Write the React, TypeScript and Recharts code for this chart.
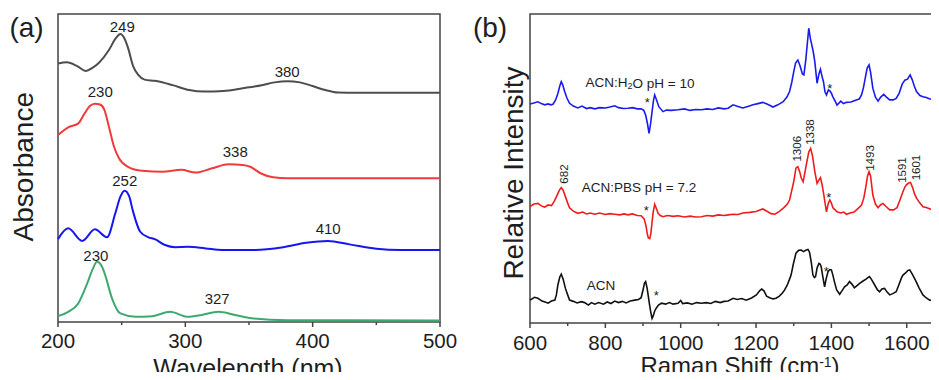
import React from 'react';
import { LineChart, Line, XAxis, YAxis, ReferenceArea, ReferenceDot } from 'recharts';

const FONT = '"Liberation Sans", Arial, Helvetica, sans-serif';

// ---- panel (a): UV-vis absorbance, offset curves (arb. units) ----
const absTicks = [200, 250, 300, 350, 400, 450, 500];
const absMajor = [200, 300, 400, 500];

const absGray: [number, number][] = [
  [200, 83.9], [207, 84.3], [215, 83.1], [222, 81.5], [227, 82.5], [232, 84.1], [240, 88.3],
  [245, 91.9], [249, 93.5], [252, 92.2], [255, 89.0], [259, 83.1], [263, 80.2], [268, 78.7],
  [276, 78.3], [290, 76.9], [303, 75.3], [315, 74.8], [330, 75.0], [345, 75.9], [360, 76.9],
  [370, 77.8], [380, 78.2], [390, 77.8], [400, 76.6], [410, 75.3], [420, 74.5], [435, 74.4],
  [460, 74.4], [500, 74.4],
];
const absRed: [number, number][] = [
  [200, 60.7], [208, 63.2], [216, 64.5], [221, 67.8], [225, 70.1], [229, 70.9], [233, 70.6],
  [236.5, 68.8], [240, 63.4], [244, 56.9], [248, 53.1], [255, 50.4], [266, 49.1], [282, 48.8],
  [297, 49.4], [308, 48.5], [321, 49.9], [334, 51.2], [345, 51.0], [351, 50.4], [359, 48.3],
  [369, 47.0], [380, 46.7], [500, 46.7],
];
const absBlue: [number, number][] = [
  [200, 26.9], [208, 30.4], [219, 26.3], [229, 30.1], [238.5, 27.5], [245, 35.3], [249, 40.7],
  [252.3, 42.6], [256, 40.7], [258.6, 36.4], [264.6, 29.3], [271, 27.5], [276, 26.9], [284, 25.0],
  [292, 24.3], [302, 24.4], [316, 23.9], [329, 23.4], [355, 23.4], [377, 24.3], [395, 25.7],
  [412, 26.3], [429, 25.2], [450, 23.8], [469, 23.4], [500, 23.4],
];
const absGreen: [number, number][] = [
  [200, 1.9], [208, 3.3], [216, 6.1], [223, 12.6], [227, 16.9], [230.6, 19.6], [234.5, 18.0],
  [237, 15.3], [242.4, 7.7], [249, 2.8], [261, 1.7], [274, 1.9], [288, 3.3], [302, 1.7],
  [313, 2.3], [326, 3.3], [339, 2.3], [352, 1.2], [380, 0.6], [500, 0.5],
];
const absPeaks = [
  { text: '249', x: 250.5, y: 96.1 },
  { text: '380', x: 380, y: 81.2 },
  { text: '230', x: 233.2, y: 74.8 },
  { text: '338', x: 339.2, y: 55.4 },
  { text: '252', x: 252.4, y: 45.8 },
  { text: '410', x: 412.2, y: 30.2 },
  { text: '230', x: 229.7, y: 21.6 },
  { text: '327', x: 325, y: 7.6 },
];

// ---- panel (b): Raman spectra, offset curves ----
const ramanTicks = [600, 700, 800, 900, 1000, 1100, 1200, 1300, 1400, 1500, 1600, 1700];
const ramanMajor = [600, 800, 1000, 1200, 1400, 1600];

const ramanH2O: [number, number][] = [
  [600, 70.9], [610, 71.2], [621, 71.6], [630, 71.0], [639, 70.6], [648, 70.9], [655, 70.6],
  [661, 70.8], [668, 72.2], [674, 74.3], [679, 76.7], [683, 78.1], [687, 77.0], [692, 74.9],
  [698, 72.8], [705, 71.1], [715, 70.2], [727, 69.6], [738, 70.2], [750, 69.4], [760, 69.7],
  [772, 69.3], [785, 69.7], [800, 69.6], [812, 69.9], [825, 70.3], [835, 69.7], [848, 69.4],
  [860, 69.5], [872, 69.7], [885, 69.3], [895, 69.3], [902, 68.8], [907, 67.3], [912, 64.4],
  [916, 61.4], [920, 64.4], [924, 68.4], [928, 72.2], [931, 73.8], [935, 72.5], [942, 70.0],
  [953, 68.4], [962, 68.9], [975, 68.8], [993, 69.0], [1010, 69.3], [1025, 68.8], [1040, 69.1],
  [1055, 69.0], [1070, 69.3], [1085, 69.1], [1100, 69.6], [1115, 69.3], [1126, 69.5],
  [1139, 70.6], [1152, 70.1], [1165, 69.6], [1178, 70.1], [1192, 70.6], [1205, 71.0],
  [1218, 71.4], [1232, 70.7], [1245, 69.9], [1258, 70.6], [1272, 71.6], [1282, 73.1],
  [1289, 74.9], [1295, 78.0], [1300, 81.3], [1305, 84.1], [1311, 85.1], [1317, 83.2],
  [1323, 80.6], [1327, 80.3], [1332, 85.1], [1336, 90.3], [1340, 95.4], [1344, 92.2],
  [1348, 90.0], [1352, 87.7], [1356, 84.6], [1362, 77.6], [1367, 80.6], [1371, 82.1],
  [1375, 79.9], [1379, 78.1], [1383, 74.8], [1387, 73.8], [1392, 75.4], [1396, 75.1],
  [1400, 74.4], [1404, 73.2], [1410, 71.8], [1415, 70.5], [1425, 71.8], [1432, 71.0],
  [1440, 71.4], [1452, 71.5], [1466, 72.2], [1474, 72.5], [1480, 73.8], [1485, 76.1],
  [1490, 79.3], [1495, 82.5], [1500, 83.5], [1504, 81.2], [1510, 76.0], [1517, 73.1],
  [1524, 71.8], [1531, 73.1], [1539, 74.0], [1546, 73.1], [1555, 72.2], [1564, 72.2],
  [1572, 72.7], [1580, 74.4], [1588, 77.3], [1595, 78.6], [1602, 78.9], [1609, 80.3],
  [1615, 78.6], [1620, 76.7], [1626, 74.9], [1635, 73.6], [1643, 73.2], [1652, 73.0],
  [1660, 72.6], [1670, 72.2], [1680, 71.8], [1690, 71.7], [1700, 71.7],
];
const ramanPBS: [number, number][] = [
  [600, 37.7], [610, 38.5], [621, 38.7], [630, 37.9], [639, 37.5], [648, 38.2], [657, 38.0],
  [665, 39.5], [672, 41.4], [678, 43.0], [683, 43.8], [688, 43.0], [694, 40.9], [700, 38.8],
  [705, 37.3], [715, 36.2], [727, 35.5], [740, 35.9], [750, 35.3], [760, 35.6], [772, 35.2],
  [785, 35.6], [800, 35.1], [812, 35.4], [825, 35.2], [838, 35.0], [850, 35.3], [860, 35.0],
  [872, 35.3], [885, 34.8], [895, 34.7], [903, 33.7], [908, 31.4], [911, 29.1], [914, 27.5],
  [918, 27.3], [921, 29.1], [924, 32.7], [927, 35.9], [931, 38.4], [935, 37.2], [940, 35.5],
  [946, 34.8], [953, 34.4], [965, 34.8], [980, 34.5], [993, 34.7], [1010, 34.3], [1025, 34.6],
  [1040, 34.3], [1055, 34.4], [1070, 34.8], [1085, 34.6], [1100, 35.0], [1115, 34.8],
  [1126, 35.0], [1139, 35.2], [1152, 35.1], [1165, 35.6], [1183, 35.8], [1200, 36.1],
  [1210, 36.6], [1218, 36.9], [1230, 36.1], [1240, 35.4], [1250, 35.2], [1262, 36.1],
  [1270, 36.9], [1276, 37.6], [1283, 38.5], [1289, 39.8], [1295, 43.0], [1300, 45.7],
  [1306, 50.2], [1311, 50.6], [1316, 48.9], [1320, 46.9], [1325, 45.7], [1330, 48.9],
  [1335, 52.2], [1340, 55.3], [1345, 56.5], [1350, 54.0], [1356, 49.0], [1362, 45.2],
  [1367, 46.3], [1371, 47.0], [1375, 45.0], [1380, 41.4], [1384, 38.2], [1387, 36.0],
  [1392, 38.8], [1396, 39.8], [1400, 38.8], [1404, 37.3], [1410, 36.6], [1415, 36.0],
  [1425, 35.6], [1433, 35.9], [1440, 35.2], [1450, 35.6], [1460, 35.9], [1471, 37.1],
  [1480, 38.2], [1486, 40.4], [1491, 43.7], [1496, 47.6], [1500, 49.0], [1504, 47.6],
  [1510, 41.4], [1517, 38.5], [1524, 37.3], [1530, 38.2], [1537, 38.7], [1545, 37.7],
  [1555, 36.6], [1565, 36.6], [1574, 37.3], [1582, 39.8], [1590, 42.5], [1595, 44.0],
  [1599, 44.7], [1605, 45.3], [1610, 45.5], [1616, 43.7], [1621, 41.7], [1626, 40.4],
  [1635, 38.8], [1643, 37.6], [1652, 37.4], [1662, 36.9], [1672, 36.7], [1680, 36.6],
  [1690, 36.4], [1700, 36.2],
];
const ramanACN: [number, number][] = [
  [600, 7.4], [612, 8.3], [621, 8.0], [632, 7.1], [640, 6.8], [648, 6.4], [657, 7.1],
  [666, 7.4], [670, 9.1], [674, 12.3], [679, 14.9], [683, 15.8], [688, 14.2], [694, 11.2],
  [700, 9.1], [705, 7.4], [715, 7.0], [725, 6.5], [736, 6.9], [745, 6.6], [755, 5.8],
  [763, 6.6], [772, 6.1], [782, 6.6], [795, 6.1], [805, 6.8], [815, 6.3], [825, 7.1],
  [835, 6.6], [845, 7.0], [855, 6.5], [866, 7.1], [878, 7.4], [888, 7.6], [895, 8.2],
  [900, 10.7], [904, 12.9], [907, 13.4], [911, 11.2], [914, 8.7], [917.5, 5.8], [921, 3.2],
  [924, 1.5], [927, 2.3], [931, 3.9], [935, 4.8], [941, 5.8], [949, 6.4], [960, 6.1],
  [970, 6.6], [980, 6.1], [993, 6.4], [1000, 7.3], [1005, 6.3], [1018, 6.5], [1030, 6.1],
  [1042, 6.6], [1055, 6.4], [1068, 6.6], [1080, 6.3], [1092, 7.0], [1105, 6.6], [1115, 7.0],
  [1126, 7.1], [1139, 8.0], [1150, 7.6], [1162, 7.9], [1174, 7.4], [1188, 8.1], [1201, 9.1],
  [1210, 10.5], [1215, 11.0], [1221, 10.4], [1228, 8.7], [1236, 8.2], [1245, 7.8],
  [1253, 8.0], [1262, 8.7], [1270, 9.7], [1276, 10.7], [1283, 12.3], [1289, 14.2],
  [1293, 15.5], [1299, 19.1], [1306, 22.6], [1313, 23.5], [1320, 23.6], [1326, 23.1],
  [1333, 23.6], [1338, 23.8], [1342, 22.9], [1347, 19.4], [1351, 15.5], [1355, 14.7],
  [1358, 15.0], [1362, 17.8], [1367, 19.3], [1370, 19.1], [1373, 18.2], [1377, 15.2],
  [1382, 11.7], [1386, 14.2], [1391, 16.6], [1396, 17.3], [1400, 17.2], [1404, 15.5],
  [1408, 13.4], [1414, 10.7], [1422, 9.3], [1428, 10.4], [1435, 11.7], [1442, 12.3],
  [1448, 13.4], [1455, 12.5], [1461, 11.4], [1468, 12.1], [1476, 12.9], [1484, 13.6],
  [1492, 14.2], [1497, 14.7], [1501, 15.0], [1506, 14.2], [1515, 12.3], [1522, 10.8],
  [1528, 10.1], [1534, 11.0], [1541, 11.2], [1548, 10.0], [1555, 9.1], [1563, 9.5],
  [1572, 10.1], [1580, 12.6], [1586, 14.6], [1590, 15.5], [1597, 16.2], [1603, 17.0],
  [1608, 17.2], [1614, 16.0], [1620, 14.6], [1625, 13.4], [1633, 11.3], [1643, 9.1],
  [1652, 8.1], [1661, 7.4], [1672, 7.3], [1683, 7.1], [1692, 6.9], [1700, 6.9],
];
const ramanPeaks = [
  { text: '682', x: 690.3, y: 48.2 },
  { text: '1306', x: 1308.8, y: 56.4 },
  { text: '1338', x: 1343.3, y: 61.8 },
  { text: '1493', x: 1502.6, y: 53.4 },
  { text: '1591', x: 1587.5, y: 49.5 },
  { text: '1601', x: 1624.7, y: 50.3 },
];
const ramanStars: [number, number][] = [
  [911.4, 72.2], [1395.6, 77.0], [908.7, 37.3], [1393, 41.7], [935.3, 9.9], [1386.6, 17.7],
];

const toPts = (arr: [number, number][]) => arr.map(([x, y]) => ({ x, y }));

const AXIS = '#444';
const TEXT = '#1e1e1e';

function makeTick(major: number[], labelDy: number) {
  return (props: any) => {
    const { x, y, payload } = props;
    const isMajor = major.includes(payload.value);
    return (
      <g>
        <line x1={x} x2={x} y1={y} y2={y + (isMajor ? 5 : 3)} stroke={AXIS} strokeWidth={1.5} />
        {isMajor && (
          <text x={x} y={y + labelDy} textAnchor="middle" fontSize={20.5} fill={TEXT} fontFamily={FONT}>
            {payload.value}
          </text>
        )}
      </g>
    );
  };
}

const peakText = (text: string, size: number, rotate = false) => (p: any) => (
  <text
    x={p.cx}
    y={p.cy}
    textAnchor="middle"
    dominantBaseline="central"
    fontSize={size}
    fill={TEXT}
    fontFamily={FONT}
    transform={rotate ? `rotate(-90, ${p.cx}, ${p.cy})` : undefined}
  >
    {text}
  </text>
);

const starShape = (p: any) => (
  <text x={p.cx} y={p.cy + 7.5} textAnchor="middle" fontSize={13} fill={TEXT} fontFamily={FONT}>
    *
  </text>
);

export default function App() {
  return (
    <div
      style={{
        position: 'relative',
        width: 939,
        height: 380,
        overflow: 'hidden',
        margin: -8,
        background: '#fff',
        fontFamily: FONT,
      }}
    >
      <div style={{ position: 'absolute', left: 0, top: 0 }}>
        <LineChart width={470} height={380} margin={{ top: 14, right: 30, bottom: 28, left: 58 }}>
          <XAxis
            type="number"
            dataKey="x"
            domain={[200, 500]}
            ticks={absTicks}
            interval={0}
            tickSize={0}
            tickMargin={0}
            height={30}
            axisLine={false}
            tickLine={false}
            tick={makeTick(absMajor, 26)}
          />
          <YAxis type="number" domain={[0, 100]} hide />
          <ReferenceArea x1={200} x2={500} y1={0} y2={100} fill="none" stroke={AXIS} strokeWidth={1.5} />
          <Line data={toPts(absGray)} dataKey="y" type="monotone" stroke="#4d4d4d" strokeWidth={2} dot={false} isAnimationActive={false} />
          <Line data={toPts(absRed)} dataKey="y" type="monotone" stroke="#ef3b3b" strokeWidth={2} dot={false} isAnimationActive={false} />
          <Line data={toPts(absBlue)} dataKey="y" type="monotone" stroke="#1616ee" strokeWidth={2} dot={false} isAnimationActive={false} />
          <Line data={toPts(absGreen)} dataKey="y" type="monotone" stroke="#3caa6e" strokeWidth={2} dot={false} isAnimationActive={false} />
          {absPeaks.map((p, i) => (
            <ReferenceDot key={`ap-${i}`} x={p.x} y={p.y} r={0} ifOverflow="visible" shape={peakText(p.text, 15)} />
          ))}
        </LineChart>
      </div>

      <div style={{ position: 'absolute', left: 470, top: 0 }}>
        <LineChart width={490} height={380} margin={{ top: 14, right: 15.6, bottom: 27, left: 60 }}>
          <XAxis
            type="number"
            dataKey="x"
            domain={[600, 1700]}
            ticks={ramanTicks}
            interval={0}
            tickSize={0}
            tickMargin={0}
            height={30}
            axisLine={false}
            tickLine={false}
            tick={makeTick(ramanMajor, 27)}
          />
          <YAxis type="number" domain={[0, 100]} hide />
          <ReferenceArea x1={600} x2={1700} y1={0} y2={100} fill="none" stroke={AXIS} strokeWidth={1.5} />
          <Line data={toPts(ramanH2O)} dataKey="y" type="linear" stroke="#1a1aee" strokeWidth={1.6} dot={false} isAnimationActive={false} />
          <Line data={toPts(ramanPBS)} dataKey="y" type="linear" stroke="#f01c1c" strokeWidth={1.6} dot={false} isAnimationActive={false} />
          <Line data={toPts(ramanACN)} dataKey="y" type="linear" stroke="#111111" strokeWidth={1.6} dot={false} isAnimationActive={false} />
          {ramanPeaks.map((p, i) => (
            <ReferenceDot key={`rp-${i}`} x={p.x} y={p.y} r={0} ifOverflow="visible" shape={peakText(p.text, 11.5, true)} />
          ))}
          {ramanStars.map(([x, y], i) => (
            <ReferenceDot key={`st-${i}`} x={x} y={y} r={0} ifOverflow="visible" shape={starShape} />
          ))}
          <ReferenceDot
            x={892}
            y={77.8}
            r={0}
            ifOverflow="visible"
            shape={(p: any) => (
              <text x={p.cx} y={p.cy} textAnchor="middle" dominantBaseline="central" fontSize={13.5} fill={TEXT} fontFamily={FONT}>
                ACN:H<tspan fontSize={9} dy={3}>2</tspan>
                <tspan dy={-3}>O pH = 10</tspan>
              </text>
            )}
          />
          <ReferenceDot x={889.4} y={43.9} r={0} ifOverflow="visible" shape={peakText('ACN:PBS pH = 7.2', 13.5)} />
          <ReferenceDot x={788.5} y={12.1} r={0} ifOverflow="visible" shape={peakText('ACN', 13.5)} />
        </LineChart>
      </div>

      <svg width={939} height={380} style={{ position: 'absolute', left: 0, top: 0, pointerEvents: 'none' }}>
        <g fontFamily={FONT} fill={TEXT}>
          <text x={26.5} y={37} textAnchor="middle" fontSize={28}>(a)</text>
          <text x={490} y={37} textAnchor="middle" fontSize={28}>(b)</text>
          <text x={33} y={166.7} textAnchor="middle" fontSize={28} transform="rotate(-90, 33, 166.7)">
            Absorbance
          </text>
          <text x={523} y={173} textAnchor="middle" fontSize={28} transform="rotate(-90, 523, 173)">
            Relative Intensity
          </text>
          <text x={248} y={377} textAnchor="middle" fontSize={25}>Wavelength (nm)</text>
          <text x={740} y={374} textAnchor="middle" fontSize={24}>
            Raman Shift (cm<tspan fontSize={14} dy={-7}>-1</tspan>
            <tspan dy={7}>)</tspan>
          </text>
        </g>
      </svg>
    </div>
  );
}
